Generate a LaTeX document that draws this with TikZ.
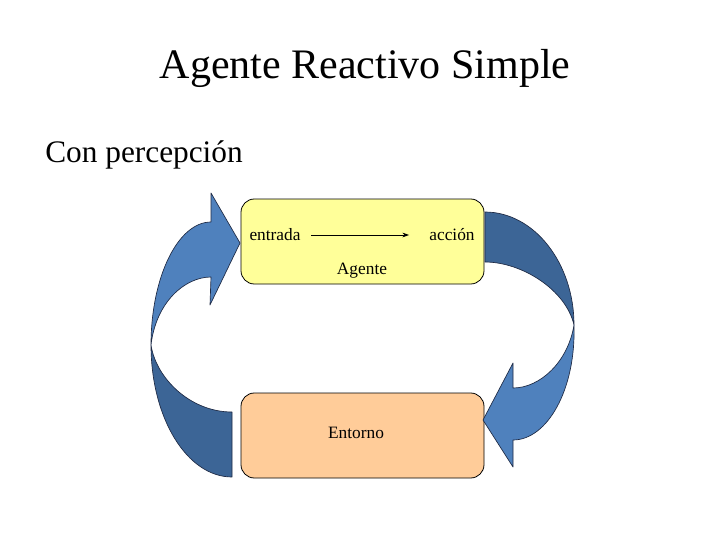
\documentclass[tikz,border=0pt]{standalone}
\usepackage{fontspec}
\setmainfont{Liberation Serif}
\usetikzlibrary{arrows.meta}
\definecolor{agentfill}{HTML}{FFFF99}
\definecolor{envfill}{HTML}{FFCC99}
\definecolor{arrowfront}{HTML}{4F81BD}
\definecolor{arrowback}{HTML}{3C6596}
\definecolor{arrowline}{HTML}{1F2A44}
\tikzset{
  box/.style={draw=black, line width=0.6pt, rounded corners=10pt, minimum width=243*0.75pt, minimum height=85*0.75pt},
  small/.style={font=\fontsize{13}{15}\selectfont, inner sep=0pt},
  front/.style={fill=arrowfront, draw=arrowline, line width=0.5pt, line join=round},
  back/.style={fill=arrowback, draw=arrowline, line width=0.5pt, line join=round}
}
\begin{document}
\begin{tikzpicture}[x=0.75pt, y=-0.75pt]
  \useasboundingbox (0,0) rectangle (728,546);

  % headings
  \node[font=\fontsize{31.5}{36}\selectfont] (title) at (365,68) {Agente Reactivo Simple};
  \node[font=\fontsize{23.5}{28}\selectfont, anchor=west, inner sep=0pt] (sub) at (45,155) {Con percepción};

  % the two boxes
  \node[box, fill=agentfill] (agente) at (362.5,241.5) {};
  \node[box, fill=envfill] (entorno) at (362.5,435.5) {};

  \node[small] (entrada) at (275,235) {entrada};
  \node[small] (accion) at (452,235) {acción};
  \node[small] (aglabel) at (362,271) {Agente};
  \node[small] (entlabel) at (356,433) {Entorno};

  \draw[-{Stealth[length=5pt,width=3.5pt]}, line width=0.6pt, shorten <=8pt, shorten >=15pt] (entrada) -- (accion);

  % left curved arrow: back face (lower half)
  \draw[back] (232,412) -- (232,477)
    .. controls (187,477) and (151,418) .. (151,345)
    .. controls (156,378) and (190,412) .. cycle;
  % left curved arrow: front face with head
  \draw[front] (151,345)
    .. controls (151,277) and (178,222) .. (211,222)
    -- (211,193) -- (240,243) -- (210,305) -- (211,277)
    .. controls (185,277) and (156,302) .. cycle;

  % right curved arrow: back face (upper half)
  \draw[back] (485,212)
    .. controls (534,212) and (574,263) .. (574,325)
    .. controls (566,290) and (522,262) .. (485,262) -- cycle;
  % right curved arrow: front face with head
  \draw[front] (574,325)
    .. controls (576,390) and (547,440) .. (513,440)
    -- (513,467) -- (483,420) -- (513,363) -- (513,388)
    .. controls (540,388) and (568,362) .. cycle;
\end{tikzpicture}
\end{document}
